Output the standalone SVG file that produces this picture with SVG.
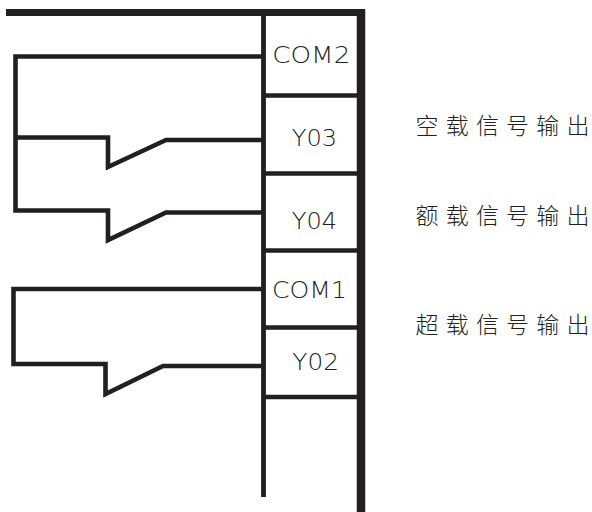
<svg xmlns="http://www.w3.org/2000/svg" width="592" height="512" viewBox="0 0 592 512">
<style>
.ln{fill:none;stroke:#231f20;stroke-width:4.6;stroke-linejoin:miter;stroke-linecap:butt}
.sep{stroke:#231f20;stroke-width:4.5}
.lbl{font-family:"DejaVu Sans","Liberation Sans",sans-serif;font-weight:200;font-size:23.5px;fill:#231f20}
.cn{font-family:"Noto Sans CJK SC","Noto Sans",sans-serif;font-size:23px;font-weight:300;fill:#231f20}
</style>
<rect width="592" height="512" fill="#ffffff"/>
<g id="frame">
<line x1="6" y1="12.5" x2="365" y2="12.5" stroke="#231f20" stroke-width="7"/>
<line x1="361" y1="9" x2="361" y2="512" stroke="#231f20" stroke-width="8.5"/>
<line x1="263.5" y1="12" x2="263.5" y2="497" stroke="#231f20" stroke-width="4.8"/>
</g>
<g id="connectors">
<path class="ln" d="M264,56.5 H15.5 V210.5 H108 V240 L166,212.5 H264"/>
<path class="ln" d="M15.5,137.5 H108 V167 L166,140 H264"/>
<path class="ln" d="M264,289 H13.5 V364 H105.5 V394 L163,366 H264"/>
</g>
<g id="com2">
<text class="lbl" x="272.3" y="63.3" textLength="78" lengthAdjust="spacingAndGlyphs">COM2</text>
<line class="sep" x1="264" y1="95.5" x2="361" y2="95.5"/>
</g>
<g id="y03">
<text class="lbl" x="291.7" y="146" textLength="45.3" lengthAdjust="spacingAndGlyphs">Y03</text>
<line class="sep" x1="264" y1="173.5" x2="361" y2="173.5"/>
</g>
<g id="y04">
<text class="lbl" x="291.7" y="228.7" textLength="45.3" lengthAdjust="spacingAndGlyphs">Y04</text>
<line class="sep" x1="264" y1="250.5" x2="361" y2="250.5"/>
</g>
<g id="com1">
<text class="lbl" x="272" y="298.3" textLength="75" lengthAdjust="spacingAndGlyphs">COM1</text>
<line class="sep" x1="264" y1="327.5" x2="361" y2="327.5"/>
</g>
<g id="y02">
<text class="lbl" x="292.3" y="370" textLength="46.7" lengthAdjust="spacingAndGlyphs">Y02</text>
<line class="sep" x1="264" y1="397" x2="361" y2="397"/>
</g>
<g id="labels">
<text class="cn" x="415.5 445.7 475.9 506.1 536.3 566.5" y="133.5">空载信号输出</text>
<text class="cn" x="415.5 445.7 475.9 506.1 536.3 566.5" y="223.5">额载信号输出</text>
<text class="cn" x="415.5 445.7 475.9 506.1 536.3 566.5" y="332.5">超载信号输出</text>
</g>
</svg>
